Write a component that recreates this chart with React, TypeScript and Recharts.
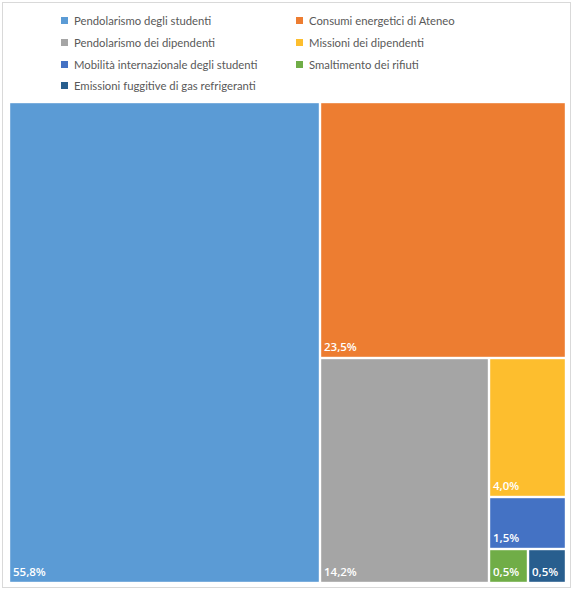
import React from "react";
import { Treemap } from "recharts";

const categories = [
  "Pendolarismo degli studenti",
  "Consumi energetici di Ateneo",
  "Pendolarismo dei dipendenti",
  "Missioni dei dipendenti",
  "Mobilità internazionale degli studenti",
  "Smaltimento dei rifiuti",
  "Emissioni fuggitive di gas refrigeranti",
];

const shares = [55.8, 23.5, 14.2, 4.0, 1.5, 0.5, 0.5];

const COLORS = ["#5B9BD5", "#ED7D31", "#A5A5A5", "#FDBE2E", "#4472C4", "#70AD47", "#285E8E"];

const data = categories.map((name, i) => ({ name, size: shares[i] }));

const fmt = (v: number) => v.toFixed(1).replace(".", ",") + "%";

function Cell(props: any) {
  const { x, y, width, height, depth, index, size } = props;
  if (depth !== 1) return null;
  const g = 1.2;
  return (
    <g>
      <rect
        x={x + g}
        y={y + g}
        width={Math.max(0, width - 2 * g)}
        height={Math.max(0, height - 2 * g)}
        fill={COLORS[index % COLORS.length]}
      />
      <text
        x={x + 4}
        y={y + height - 7}
        fill="#fff"
        fontSize={11.5}
        fontWeight={600}
        fontFamily="'Open Sans', sans-serif"
      >
        {fmt(size)}
      </text>
    </g>
  );
}

function Legend() {
  const rows: number[][] = [];
  for (let i = 0; i < categories.length; i += 2) rows.push([i, i + 1].filter((k) => k < categories.length));
  return (
    <div style={{ position: "absolute", left: 61, top: 10, fontFamily: "Lato, sans-serif", fontSize: 11.3, color: "#595959" }}>
      {rows.map((r, ri) => (
        <div key={ri} style={{ display: "flex", height: 21.7, alignItems: "center" }}>
          {r.map((k, ci) => (
            <div key={k} style={{ display: "flex", alignItems: "center", width: ci === 0 ? 235 : 260 }}>
              <span style={{ width: 7, height: 7, background: COLORS[k], marginRight: 6 }} />
              <span>{categories[k]}</span>
            </div>
          ))}
        </div>
      ))}
    </div>
  );
}

export default function App() {
  return (
    <div style={{ position: "absolute", left: 0, top: 0, width: 577, height: 593, background: "#fff" }}>
      <div
        style={{
          position: "absolute",
          left: 2,
          top: 2,
          width: 567,
          height: 584,
          border: "1px solid #D9D9D9",
        }}
      />
      <Legend />
      <div style={{ position: "absolute", left: 9, top: 102 }}>
        <Treemap
          width={557}
          height={481}
          data={data}
          dataKey="size"
          aspectRatio={1}
          content={<Cell />}
          isAnimationActive={false}
        />
      </div>
    </div>
  );
}
